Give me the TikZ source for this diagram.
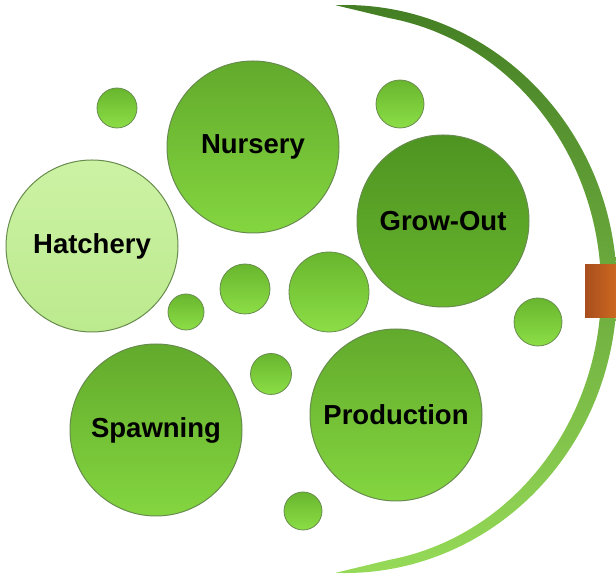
\documentclass[tikz,border=0pt]{standalone}
\usepackage{xcolor}
\usepackage{fontspec}
\setmainfont{Liberation Sans}
\usepackage{tikz}
\usetikzlibrary{positioning, shapes}
\definecolor{leafdark}{RGB}{68, 126, 36}
\definecolor{leaflight}{RGB}{150, 218, 88}
\definecolor{rimgreen}{RGB}{104, 140, 78}
\definecolor{midtop}{RGB}{98, 170, 44}
\definecolor{midbottom}{RGB}{132, 214, 64}
\definecolor{deeptop}{RGB}{78, 148, 34}
\definecolor{deepbottom}{RGB}{104, 182, 44}
\definecolor{palegreen}{RGB}{204, 242, 164}
\definecolor{palebottom}{RGB}{188, 234, 142}
\definecolor{droptop}{RGB}{104, 182, 46}
\definecolor{dropbottom}{RGB}{140, 222, 70}
\definecolor{rustdark}{RGB}{168, 78, 30}
\definecolor{rustlight}{RGB}{204, 104, 32}

\begin{document}
\begin{tikzpicture}[x=1pt, y=1pt]
\tikzstyle{bubble} = [circle, minimum size=172pt, inner sep=0pt, draw=rimgreen, line width=1pt, top color=midtop, bottom color=midbottom, font=\fontsize{27.5}{30}\selectfont\bfseries]
\tikzstyle{drop} = [circle, inner sep=0pt, draw=rimgreen, line width=0.8pt, top color=droptop, bottom color=dropbottom]

\useasboundingbox (0,0) rectangle (616,575);

% curved leaf, tapered at both tips
\shade[top color=leafdark, bottom color=leaflight]
  (335.5,569.8) arc[start angle=92, end angle=-92, x radius=272, y radius=284]
  -- (389.5,15.2) arc[start angle=-80, end angle=80, x radius=256, y radius=275] -- cycle;
\shade[left color=rustdark, right color=rustlight] (585,257) rectangle (616,310);

% stages
\node (hatchery) [bubble, top color=palegreen, bottom color=palebottom] at (92,329) {Hatchery};
\node (nursery) [bubble] at (253,428) {Nursery};
\node (growout) [bubble, top color=deeptop, bottom color=deepbottom] at (443,354) {Grow-Out};
\node (spawning) [bubble] at (156,145) {Spawning};
\node (production) [bubble] at (396,160) {Production};

% small drops
\node (dropa) [drop, minimum size=40pt] at (117,467) {};
\node (dropb) [drop, minimum size=48pt] at (400,471) {};
\node (dropc) [drop, minimum size=36pt] at (186,263) {};
\node (dropd) [drop, minimum size=50pt] at (245,286) {};
\node (drope) [drop, minimum size=80pt] at (329,283) {};
\node (dropf) [drop, minimum size=41pt] at (271,201) {};
\node (dropg) [drop, minimum size=38pt] at (303,64) {};
\node (droph) [drop, minimum size=48pt] at (538,253) {};
\end{tikzpicture}
\end{document}
